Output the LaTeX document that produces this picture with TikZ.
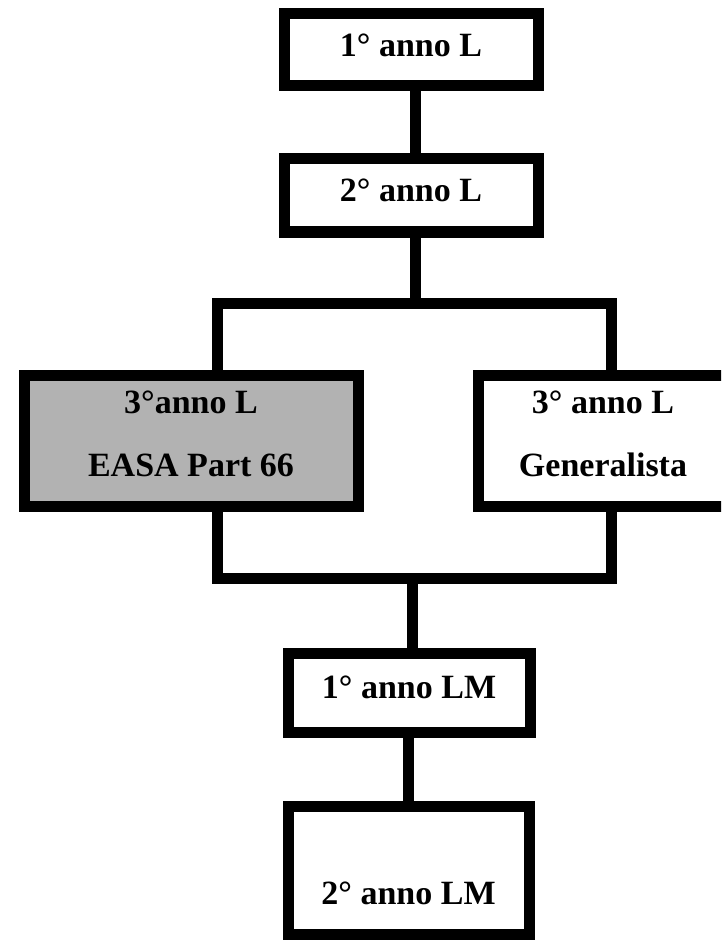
\documentclass[tikz,border=0pt]{standalone}
\usepackage{fontspec}
\setmainfont{Liberation Serif}
\tikzset{
  casella/.style={draw, line width=11pt, inner sep=0pt, align=center,
    font=\fontsize{34}{38}\bfseries\selectfont},
  grigia/.style={casella, fill=black!30},
  filo/.style={line width=11pt, line join=miter}
}
\begin{document}
\begin{tikzpicture}[x=1pt,y=-1pt]
        \useasboundingbox (0,0) rectangle (721,941) ;
        \clip (0,0) rectangle (721,941) ;
        % laurea
        \node[casella, minimum width=254pt, minimum height=72pt, text depth=10pt] (annoA) at (411,50) {1° anno L} ;
        \node[casella, minimum width=254pt, minimum height=73pt, text depth=10pt] (annoB) at (411,195.5) {2° anno L} ;
        \node[grigia, minimum width=334pt, minimum height=131pt] (easa) at (191,440.5) {3°anno L\\[25pt]EASA Part 66\rule[-14pt]{0pt}{14pt}} ;
        \node[casella, minimum width=250pt, minimum height=131pt] (gen) at (603,440.5) {3° anno L\\[25pt]Generalista\rule[-14pt]{0pt}{14pt}} ;
        % laurea magistrale
        \node[casella, minimum width=242pt, minimum height=79pt, text depth=10pt] (magA) at (409,692.5) {1° anno LM} ;
        \node[casella, minimum width=241pt, minimum height=128pt] (magB) at (408.5,870) {\rule{0pt}{70pt}2° anno LM} ;
        % biforcazione
        \coordinate (su) at (415,303) ;
        \coordinate (suS) at (217,303) ;
        \coordinate (suD) at (611,303) ;
        \coordinate (giu) at (412,578) ;
        \coordinate (giuS) at (217,578) ;
        \coordinate (giuD) at (611,578) ;
        \draw[filo] (annoA.south -| su) -- (annoB.north -| su) ;
        \draw[filo] (annoB.south -| su) -- (su) ;
        \draw[filo] (easa.north -| suS) -- (suS) -- (suD) -- (gen.north -| suD) ;
        \draw[filo] (easa.south -| giuS) -- (giuS) -- (giuD) -- (gen.south -| giuD) ;
        \draw[filo] (giu) -- (magA.north -| giu) ;
        \draw[filo] (magA.south -| magB) -- (magB.north) ;
    \end{tikzpicture}
\end{document}
